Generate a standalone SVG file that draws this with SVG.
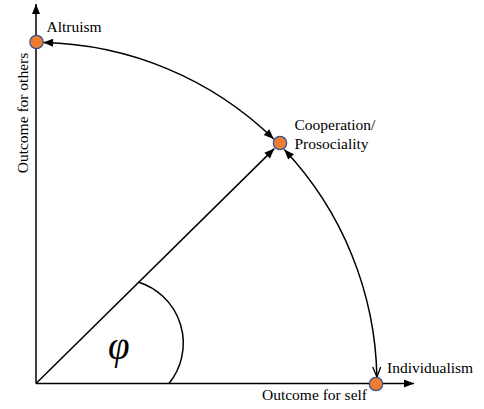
<svg xmlns="http://www.w3.org/2000/svg" width="484" height="409" viewBox="0 0 484 409">
<style>
.ln{stroke:#000;stroke-width:1.5;fill:none}
.nd{fill:#ED7D31;stroke:#2F528F;stroke-width:1.2}
.t{font-family:"Liberation Serif","Times New Roman",serif;font-size:15.5px;fill:#000}
.phi{font-family:"Liberation Serif","Times New Roman",serif;font-size:39px;font-style:italic;fill:#000}
</style>
<defs>
<marker id="ah" markerUnits="userSpaceOnUse" markerWidth="11" markerHeight="9" refX="10" refY="4" orient="auto-start-reverse" viewBox="0 0 11 9" overflow="visible">
<path d="M0,0 L10,4 L0,8 z" fill="#000"/>
</marker>
<marker id="av" markerUnits="userSpaceOnUse" markerWidth="11" markerHeight="9" refX="10" refY="4" orient="auto" viewBox="0 0 11 9" overflow="visible">
<path d="M0,0 L10,4 L0,8" fill="none" stroke="#000" stroke-width="1.3"/>
</marker>
</defs>
<g id="connectors">
<line class="ln" x1="36" y1="383.5" x2="36" y2="4" marker-end="url(#ah)"/>
<line class="ln" x1="36" y1="383.5" x2="414" y2="383.5" marker-end="url(#ah)"/>
<line class="ln" x1="36" y1="383.5" x2="274.3" y2="148.6" marker-end="url(#ah)"/>
<path class="ln" d="M43.1,42.6 A341,341 0 0 1 273.7,139" marker-start="url(#ah)" marker-end="url(#ah)"/>
<path class="ln" d="M284.2,149.6 A341,341 0 0 1 376.9,377" marker-start="url(#ah)" marker-end="url(#av)"/>
<path class="ln" d="M138,282 A64,64 0 0 1 169,383.5"/>
</g>
<g id="altruism">
<circle class="nd" cx="36.5" cy="42" r="6.7"/>
<text class="t" x="46.5" y="32">Altruism</text>
</g>
<g id="cooperation">
<circle class="nd" cx="280" cy="143" r="6.7"/>
<text class="t" x="294.5" y="129.5">Cooperation/</text>
<text class="t" x="294.5" y="148.5">Prosociality</text>
</g>
<g id="individualism">
<circle class="nd" cx="376" cy="384" r="6.7"/>
<text class="t" x="387" y="373">Individualism</text>
</g>
<g id="labels">
<text class="t" x="367" y="399.5" text-anchor="end">Outcome for self</text>
<text class="t" transform="translate(28,113) rotate(-90)" text-anchor="middle">Outcome for others</text>
<text class="phi" x="108" y="359">φ</text>
</g>
</svg>
